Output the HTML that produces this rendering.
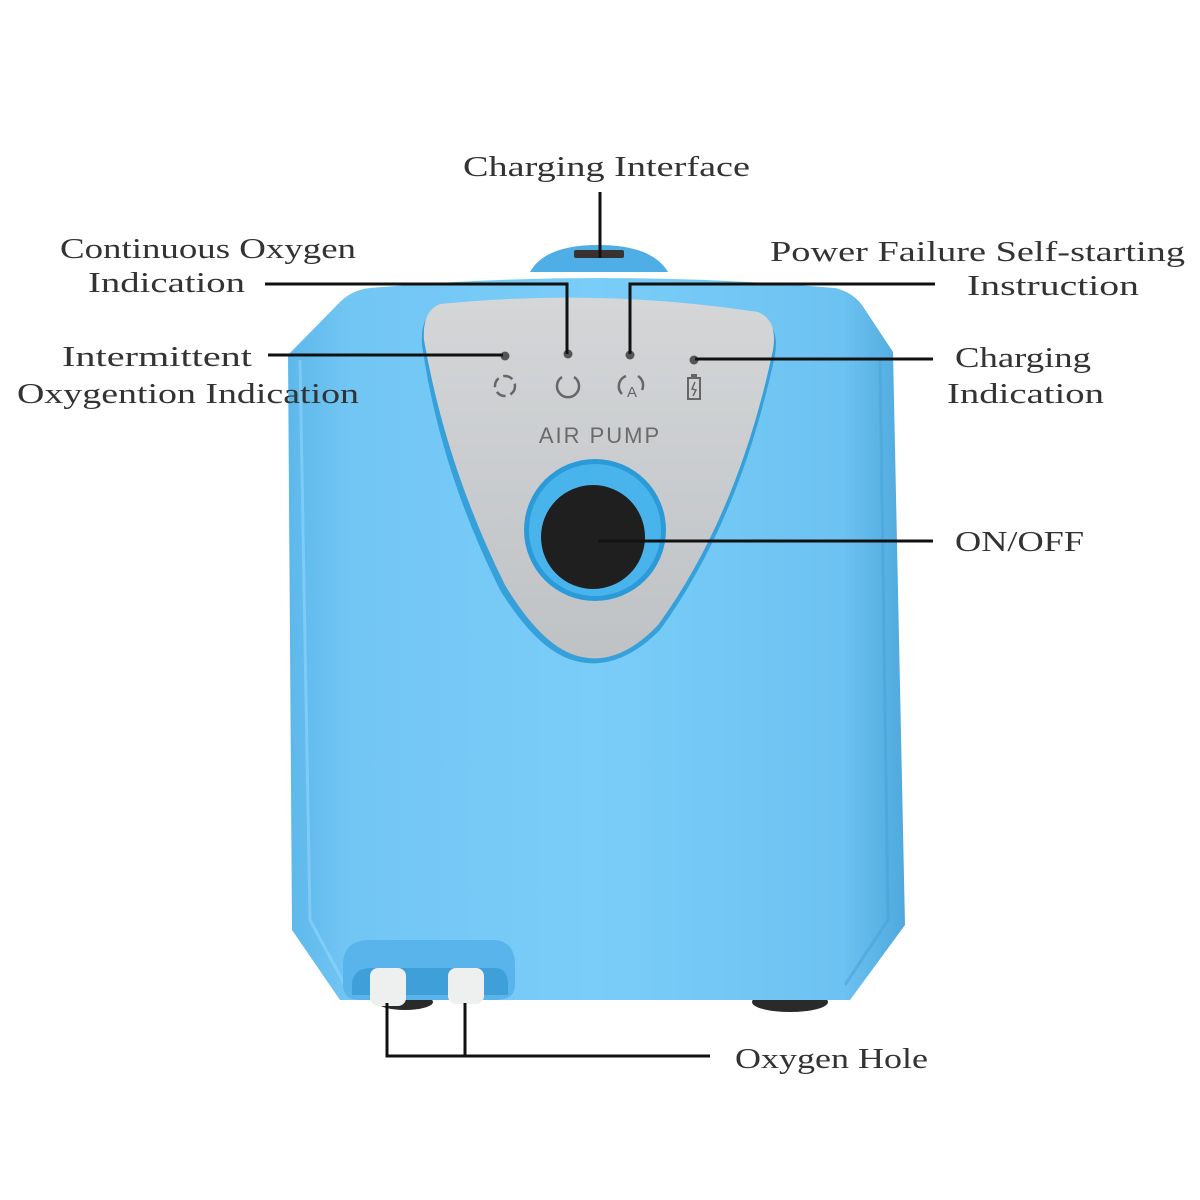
<!DOCTYPE html>
<html><head><meta charset="utf-8"><style>html,body{margin:0;padding:0;background:#fff}svg{display:block}</style></head><body>
<svg width="1200" height="1200" viewBox="0 0 1200 1200" xmlns="http://www.w3.org/2000/svg">
<defs>
<linearGradient id="bg" x1="0" y1="0" x2="1" y2="0">
<stop offset="0" stop-color="#5db8ea"/><stop offset="0.1" stop-color="#72c6f4"/><stop offset="0.5" stop-color="#7acdf8"/><stop offset="0.9" stop-color="#6cc2f1"/><stop offset="1" stop-color="#4fa9dd"/></linearGradient>
<linearGradient id="pg" x1="0" y1="0" x2="0" y2="1"><stop offset="0" stop-color="#d4d6d8"/><stop offset="1" stop-color="#bfc2c5"/></linearGradient>
</defs>
<path d="M530 272 Q545 245 598 245 Q652 245 668 272 Z" fill="#4faee6"/>
<rect x="574" y="250" width="50" height="8" rx="2" fill="#3a3230"/>
<ellipse cx="790" cy="1002" rx="38" ry="10" fill="#2a2a2a"/>
<ellipse cx="405" cy="1002" rx="28" ry="8" fill="#2a2a2a"/>
<path d="M370 288 Q600 268 835 288 Q852 292 862 305 L893 352 L905 925 L850 1000 L340 1000 L292 930 L288 355 L340 302 Q352 290 370 288 Z" fill="url(#bg)"/>
<path d="M300 360 L310 920 L345 985" fill="none" stroke="#8fd6fb" stroke-width="3" opacity="0.6"/>
<path d="M880 360 L888 920 L845 985" fill="none" stroke="#4aa3d8" stroke-width="3" opacity="0.6"/>
<path d="M438 308 Q600 292 760 318 Q780 325 775 355 Q740 520 660 630 Q620 670 580 662 Q540 655 500 590 Q440 470 422 345 Q420 315 438 308 Z" fill="#35a0da"/>
<path d="M440 304 Q600 288 758 312 Q778 320 773 350 Q738 515 658 625 Q620 665 582 657 Q544 650 505 585 Q446 466 424 340 Q422 311 440 304 Z" fill="url(#pg)"/>
<circle cx="505" cy="356" r="4.5" fill="#555"/>
<circle cx="568" cy="354" r="4.5" fill="#555"/>
<circle cx="630" cy="355" r="4.5" fill="#555"/>
<circle cx="694" cy="360" r="4.5" fill="#555"/>
<circle cx="505" cy="386" r="10" fill="none" stroke="#666" stroke-width="2.5" stroke-dasharray="10 5"/>
<path d="M562 377 A11 11 0 1 0 574 377" fill="none" stroke="#666" stroke-width="2.5"/>
<path d="M626 376 A11 11 0 0 0 622 394" fill="none" stroke="#666" stroke-width="2.5"/>
<path d="M638 376 A11 11 0 0 1 642 390" fill="none" stroke="#666" stroke-width="2.5"/>
<text x="632" y="397" font-family="Liberation Sans, sans-serif" font-size="15" fill="#666" text-anchor="middle">A</text>
<rect x="688" y="378" width="12" height="21" fill="none" stroke="#666" stroke-width="2"/>
<rect x="691" y="374" width="6" height="4" fill="#666"/>
<path d="M695 382 L692 389 L696 390 L693 396" fill="none" stroke="#666" stroke-width="1.5"/>
<text x="600" y="443" font-family="Liberation Sans, sans-serif" font-size="22" fill="#6a6a6a" text-anchor="middle" letter-spacing="2">AIR  PUMP</text>
<circle cx="595" cy="530" r="71" fill="#2b9ad8"/>
<circle cx="595" cy="530" r="66" fill="#49b4ec"/>
<circle cx="593" cy="537" r="52" fill="#1f1f1f"/>
<path d="M343 965 Q343 940 370 940 L492 940 Q515 940 515 965 L515 985 Q515 1000 495 1000 L360 1000 Q343 1000 343 985 Z" fill="#58b4ea"/>
<path d="M352 985 Q352 968 372 968 L495 968 Q508 968 508 985 L508 995 L352 995 Z" fill="#3f9fd8"/>
<rect x="370" y="968" width="36" height="38" rx="8" fill="#eef0f0"/>
<rect x="448" y="968" width="36" height="36" rx="8" fill="#eef0f0"/>
<g stroke="#111" stroke-width="3" fill="none">
<path d="M600 192 V258"/>
<path d="M265 284 H567 V354"/>
<path d="M268 355 H503"/>
<path d="M935 284 H630 V354"/>
<path d="M933 359 H695"/>
<path d="M933 541 H598"/>
<path d="M387 1003 V1056 H710 M465 1003 V1056"/>
</g>
<g font-family="Liberation Serif, serif" font-size="29" fill="#333">
<text x="463" y="176" textLength="287" lengthAdjust="spacingAndGlyphs">Charging Interface</text>
<text x="60" y="258" textLength="296" lengthAdjust="spacingAndGlyphs">Continuous Oxygen</text>
<text x="88" y="292" textLength="157" lengthAdjust="spacingAndGlyphs">Indication</text>
<text x="62" y="366" textLength="190" lengthAdjust="spacingAndGlyphs">Intermittent</text>
<text x="17" y="403" textLength="342" lengthAdjust="spacingAndGlyphs">Oxygention Indication</text>
<text x="770" y="261" textLength="415" lengthAdjust="spacingAndGlyphs">Power Failure Self-starting</text>
<text x="967" y="295" textLength="172" lengthAdjust="spacingAndGlyphs">Instruction</text>
<text x="955" y="367" textLength="136" lengthAdjust="spacingAndGlyphs">Charging</text>
<text x="947" y="403" textLength="157" lengthAdjust="spacingAndGlyphs">Indication</text>
<text x="955" y="551" textLength="129" lengthAdjust="spacingAndGlyphs">ON/OFF</text>
<text x="735" y="1068" textLength="193" lengthAdjust="spacingAndGlyphs">Oxygen Hole</text>
</g>
</svg>
</body></html>
